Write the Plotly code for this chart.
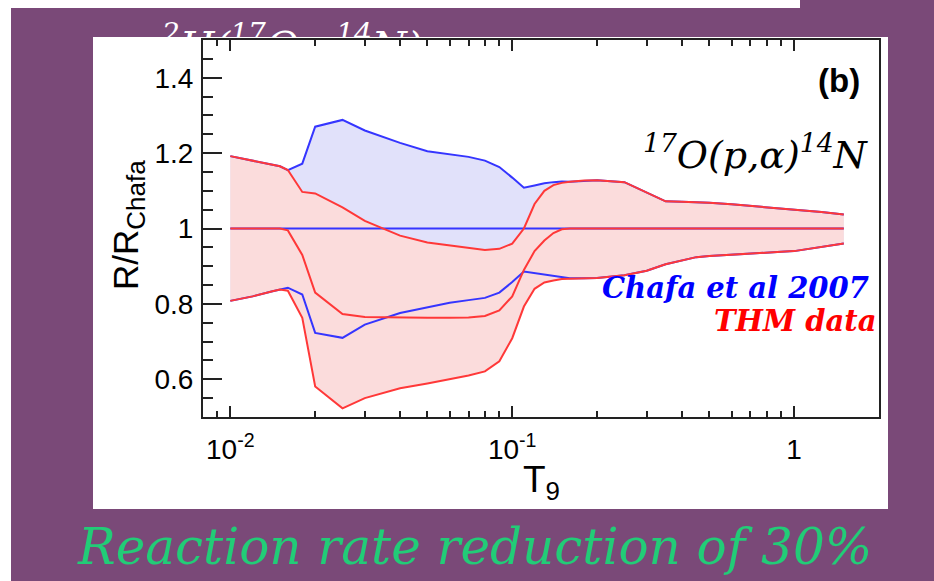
import numpy as np
import plotly.graph_objects as go

# ---------------- data ----------------
T9 = [0.01, 0.012, 0.014, 0.015, 0.016, 0.018, 0.02, 0.025, 0.03, 0.04, 0.05,
      0.06, 0.07, 0.08, 0.09, 0.1, 0.11, 0.12, 0.13, 0.14, 0.15, 0.16, 0.18,
      0.2, 0.25, 0.3, 0.35, 0.4, 0.45, 0.5, 0.6, 0.7, 0.8, 0.9, 1.0, 1.25, 1.5]

# THM (red) band
thm_hi = [1.192, 1.180, 1.168, 1.165, 1.155, 1.097, 1.093, 1.056, 1.020, 0.981, 0.963,
          0.955, 0.948, 0.943, 0.946, 0.960, 1.000, 1.065, 1.100, 1.115, 1.121, 1.124, 1.127,
          1.128, 1.123, 1.096, 1.072, 1.071, 1.070, 1.068, 1.064, 1.060, 1.057, 1.054, 1.051, 1.044, 1.037]
thm_mid = [1.000, 1.000, 1.000, 1.000, 0.995, 0.930, 0.830, 0.773, 0.765, 0.763, 0.763,
           0.763, 0.764, 0.768, 0.783, 0.820, 0.890, 0.940, 0.968, 0.988, 0.998, 1.000, 1.000,
           1.000, 1.000, 1.000, 1.000, 1.000, 1.000, 1.000, 1.000, 1.000, 1.000, 1.000, 1.000, 1.000, 1.000]
thm_lo = [0.808, 0.820, 0.833, 0.838, 0.835, 0.763, 0.581, 0.523, 0.550, 0.576, 0.589,
          0.601, 0.610, 0.621, 0.648, 0.709, 0.793, 0.840, 0.857, 0.862, 0.866, 0.867, 0.868,
          0.869, 0.876, 0.888, 0.905, 0.915, 0.924, 0.927, 0.931, 0.934, 0.936, 0.938, 0.940, 0.950, 0.960]

# Chafa et al 2007 (blue) band
chafa_hi = [1.192, 1.180, 1.168, 1.165, 1.155, 1.172, 1.270, 1.288, 1.260, 1.227, 1.205,
            1.197, 1.190, 1.180, 1.163, 1.135, 1.108, 1.114, 1.120, 1.123, 1.125, 1.124, 1.127,
            1.128, 1.123, 1.096, 1.072, 1.071, 1.070, 1.068, 1.064, 1.060, 1.057, 1.054, 1.051, 1.044, 1.037]
chafa_mid = [1.0] * len(T9)
chafa_lo = [0.808, 0.820, 0.833, 0.838, 0.843, 0.825, 0.723, 0.710, 0.745, 0.776, 0.790,
            0.803, 0.810, 0.816, 0.830, 0.858, 0.886, 0.882, 0.877, 0.873, 0.870, 0.868, 0.868,
            0.869, 0.876, 0.888, 0.905, 0.915, 0.924, 0.927, 0.931, 0.934, 0.936, 0.938, 0.940, 0.950, 0.960]

x_major = [0.01, 0.1, 1]
x_major_text = ["10<sup>-2</sup>", "10<sup>-1</sup>", "1"]
x_minor = [0.008, 0.009, 0.02, 0.03, 0.04, 0.05, 0.06, 0.07, 0.08, 0.09,
           0.2, 0.3, 0.4, 0.5, 0.6, 0.7, 0.8, 0.9, 2]
y_major = [0.6, 0.8, 1.0, 1.2, 1.4]
y_major_text = ["0.6", "0.8", "1", "1.2", "1.4"]
y_minor = [round(v, 2) for v in np.arange(0.5, 1.501, 0.05)]

# ---------------- style ----------------
W, H = 934, 581
PURPLE = "#7A4978"
BLUE = "#3535FF"
RED = "#FF3838"
BLUE_FILL = "#E1E1FA"
RED_FILL = "#FBDCDC"
AX = "#222222"
SANS = "Liberation Sans"
SCRIPT = "DejaVu Serif"


def px(x):
    return x / W


def py(y):
    return 1 - y / H


fig = go.Figure()

# bands
fig.add_trace(go.Scatter(x=T9 + T9[::-1], y=chafa_hi + chafa_lo[::-1], fill="toself",
                         fillcolor=BLUE_FILL, mode="lines", line=dict(width=0),
                         hoverinfo="skip", showlegend=False))
fig.add_trace(go.Scatter(x=T9 + T9[::-1], y=thm_hi + thm_lo[::-1], fill="toself",
                         fillcolor=RED_FILL, mode="lines", line=dict(width=0),
                         hoverinfo="skip", showlegend=False))
# lines
for ys in (chafa_hi, chafa_lo, chafa_mid):
    fig.add_trace(go.Scatter(x=T9, y=ys, mode="lines", line=dict(color=BLUE, width=2),
                             showlegend=False))
for ys in (thm_hi, thm_lo, thm_mid):
    fig.add_trace(go.Scatter(x=T9, y=ys, mode="lines", line=dict(color=RED, width=2),
                             showlegend=False))

# hidden slide title (clipped by a thin strip subplot)
fig.add_trace(go.Scatter(x=[305], y=[-50], mode="text",
                         text=["<sup>2</sup>H(<sup>17</sup>O,α<sup>14</sup>N)n"],
                         textposition="middle center", cliponaxis=True,
                         textfont=dict(family=SCRIPT, size=40, color="white", style="italic"),
                         xaxis="x2", yaxis="y2", showlegend=False, hoverinfo="skip"))

fig.update_layout(
    width=W, height=H,
    margin=dict(l=0, r=0, t=0, b=0),
    paper_bgcolor=PURPLE,
    plot_bgcolor="rgba(0,0,0,0)",
    showlegend=False,
    xaxis=dict(type="log", range=[np.log10(0.008), np.log10(2)],
               domain=[px(203), px(879)], anchor="y",
               showline=True, linecolor=AX, linewidth=2, mirror="ticks",
               ticks="inside", ticklen=11, tickwidth=1.5, tickcolor=AX,
               tickmode="array", tickvals=x_major, ticktext=x_major_text,
               tickfont=dict(family=SANS, size=28, color="black"),
               ticklabelstandoff=6,
               minor=dict(tickmode="array", tickvals=x_minor, ticks="inside",
                          ticklen=6, tickwidth=1.5, tickcolor=AX, showgrid=False),
               showgrid=False, zeroline=False),
    yaxis=dict(range=[0.5, 1.5], domain=[py(417), py(40)], anchor="x",
               showline=True, linecolor=AX, linewidth=2, mirror=True,
               ticks="inside", ticklen=19, tickwidth=1.5, tickcolor=AX,
               tickmode="array", tickvals=y_major, ticktext=y_major_text,
               tickfont=dict(family=SANS, size=28, color="black"),
               ticklabelstandoff=2,
               minor=dict(tickmode="array", tickvals=y_minor, ticks="inside",
                          ticklen=10, tickwidth=1.5, tickcolor=AX, showgrid=False),
               showgrid=False, zeroline=False),
    xaxis2=dict(domain=[0, 1], range=[0, W], visible=False, anchor="y2", fixedrange=True),
    yaxis2=dict(domain=[py(37), py(8)], range=[-37, -8], visible=False, anchor="x2",
                fixedrange=True),
    shapes=[
        dict(type="rect", xref="paper", yref="paper", x0=px(93), x1=px(888),
             y0=py(509), y1=py(37), fillcolor="white", line=dict(width=0), layer="below"),
        dict(type="rect", xref="paper", yref="paper", x0=0, x1=px(800),
             y0=py(8), y1=1, fillcolor="white", line=dict(width=0), layer="below"),
        dict(type="rect", xref="paper", yref="paper", x0=0, x1=px(11),
             y0=0, y1=1, fillcolor="white", line=dict(width=0), layer="below"),
    ],
    annotations=[
        dict(text="R/R<sub><span style='font-size:26px'>Chafa</span></sub>",
             x=px(128), y=py(225), xref="paper", yref="paper",
             textangle=-90, showarrow=False, xanchor="center", yanchor="middle",
             font=dict(family=SANS, size=35, color="black")),
        dict(text="T<sub>9</sub>", x=px(541), y=py(482), xref="paper", yref="paper",
             showarrow=False, xanchor="center", yanchor="middle",
             font=dict(family=SANS, size=37, color="black")),
        dict(text="<b>(b)</b>", x=px(839), y=py(80), xref="paper", yref="paper",
             showarrow=False, xanchor="center", yanchor="middle",
             font=dict(family=SANS, size=33, color="black")),
        dict(text="<sup>17</sup>O(p,α)<sup>14</sup>N", x=px(871), y=py(152),
             xref="paper", yref="paper", showarrow=False, xanchor="right", yanchor="middle",
             font=dict(family=SCRIPT, size=38, color="black", style="italic")),
        dict(text="Chafa et al 2007", x=px(871), y=py(288), xref="paper", yref="paper",
             showarrow=False, xanchor="right", yanchor="middle",
             font=dict(family=SCRIPT, size=29, color="#0000FF", style="italic",
                       weight="bold")),
        dict(text="THM data", x=px(878), y=py(321), xref="paper", yref="paper",
             showarrow=False, xanchor="right", yanchor="middle",
             font=dict(family=SCRIPT, size=29, color="#FF0000", style="italic",
                       weight="bold")),
        dict(text="Reaction rate reduction of 30%", x=px(475), y=py(547),
             xref="paper", yref="paper", showarrow=False, xanchor="center",
             yanchor="middle", borderpad=0,
             font=dict(family=SCRIPT, size=50, color="#22CC77", style="italic")),
    ],
)

fig.write_html("out.html")
